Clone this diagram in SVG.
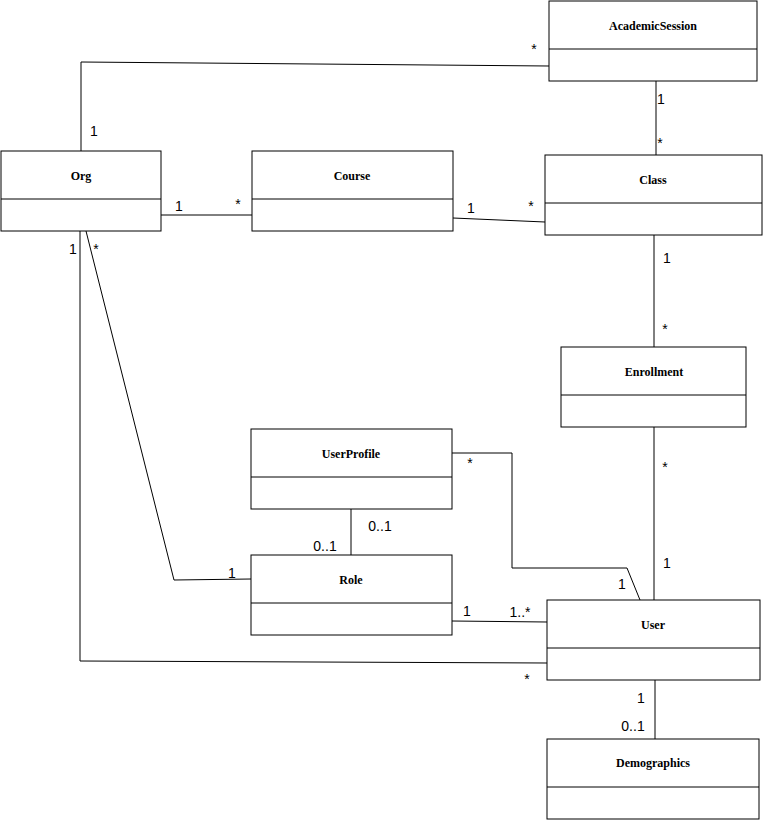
<svg xmlns="http://www.w3.org/2000/svg" width="763" height="820" viewBox="0 0 763 820">
<style>
.b{fill:#fff;stroke:#000;stroke-width:1}
.t{font-family:"Liberation Serif",serif;font-weight:bold;font-size:12px;text-anchor:middle}
.l{font-family:"Liberation Sans",sans-serif;font-size:14px;text-anchor:middle}
.c{fill:none;stroke:#000;stroke-width:1}
</style>
<rect width="763" height="820" fill="#fff"/>
<g id="connectors">
<polyline class="c" points="81,151 81,62 549,66"/>
<line class="c" x1="161" y1="215" x2="252" y2="215"/>
<line class="c" x1="453" y1="218" x2="545" y2="222"/>
<line class="c" x1="656" y1="81" x2="656" y2="155"/>
<line class="c" x1="654" y1="235" x2="654" y2="347"/>
<line class="c" x1="654" y1="427" x2="654" y2="600"/>
<polyline class="c" points="452,453 512,453 512,568 627,568 640,600"/>
<line class="c" x1="351" y1="509" x2="351" y2="555"/>
<polyline class="c" points="86,231 174,580 251,579"/>
<line class="c" x1="452" y1="621" x2="547" y2="622"/>
<polyline class="c" points="80,231 80,661 547,663"/>
<line class="c" x1="655" y1="680" x2="655" y2="739"/>
<text class="l" x="94" y="136">1</text><text class="l" x="534" y="54">*</text>
<text class="l" x="179" y="211">1</text><text class="l" x="238" y="209">*</text>
<text class="l" x="471" y="213">1</text><text class="l" x="531" y="211">*</text>
<text class="l" x="661" y="104">1</text><text class="l" x="660" y="148">*</text>
<text class="l" x="667" y="263">1</text><text class="l" x="665" y="334">*</text>
<text class="l" x="665" y="472">*</text><text class="l" x="667" y="568">1</text>
<text class="l" x="470" y="468">*</text><text class="l" x="622" y="589">1</text>
<text class="l" x="380" y="531">0..1</text><text class="l" x="325" y="551">0..1</text>
<text class="l" x="96" y="254">*</text><text class="l" x="232" y="578">1</text>
<text class="l" x="467" y="616">1</text><text class="l" x="520" y="617">1..*</text>
<text class="l" x="73" y="254">1</text><text class="l" x="527" y="684">*</text>
<text class="l" x="641" y="703">1</text><text class="l" x="633" y="731">0..1</text>
</g>
<g id="AcademicSession"><rect class="b" x="549" y="1" width="208" height="80"/><line class="c" x1="549" y1="49" x2="757" y2="49"/><text class="t" x="653" y="30">AcademicSession</text></g>
<g id="Org"><rect class="b" x="1" y="151" width="160" height="80"/><line class="c" x1="1" y1="199" x2="161" y2="199"/><text class="t" x="81" y="180">Org</text></g>
<g id="Course"><rect class="b" x="252" y="151" width="201" height="80"/><line class="c" x1="252" y1="199" x2="453" y2="199"/><text class="t" x="352" y="180">Course</text></g>
<g id="Class"><rect class="b" x="545" y="155" width="217" height="80"/><line class="c" x1="545" y1="203" x2="762" y2="203"/><text class="t" x="653" y="184">Class</text></g>
<g id="Enrollment"><rect class="b" x="561" y="347" width="185" height="80"/><line class="c" x1="561" y1="395" x2="746" y2="395"/><text class="t" x="654" y="376">Enrollment</text></g>
<g id="UserProfile"><rect class="b" x="251" y="429" width="201" height="80"/><line class="c" x1="251" y1="477" x2="452" y2="477"/><text class="t" x="351" y="458">UserProfile</text></g>
<g id="Role"><rect class="b" x="251" y="555" width="201" height="80"/><line class="c" x1="251" y1="603" x2="452" y2="603"/><text class="t" x="351" y="584">Role</text></g>
<g id="User"><rect class="b" x="547" y="600" width="213" height="80"/><line class="c" x1="547" y1="648" x2="760" y2="648"/><text class="t" x="653" y="629">User</text></g>
<g id="Demographics"><rect class="b" x="547" y="739" width="212" height="80"/><line class="c" x1="547" y1="787" x2="759" y2="787"/><text class="t" x="653" y="767">Demographics</text></g>
</svg>
